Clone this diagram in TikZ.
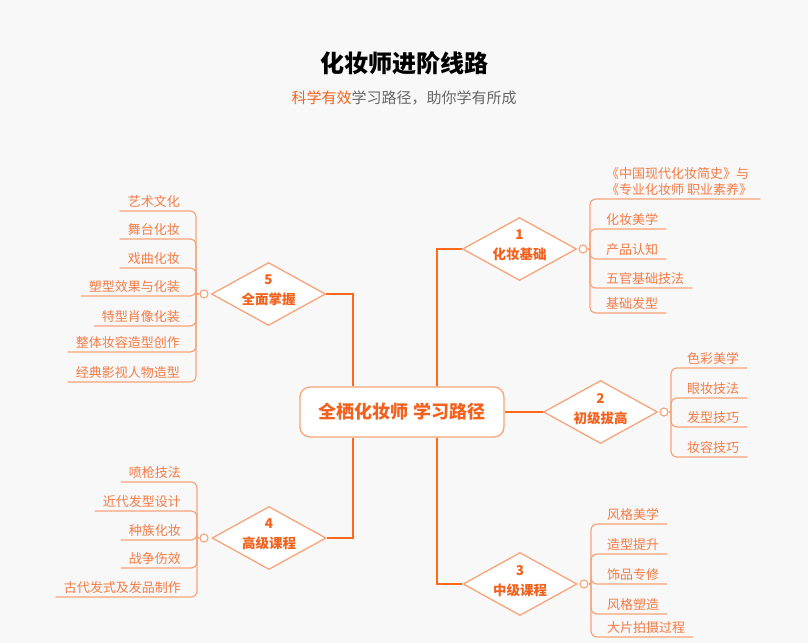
\documentclass[tikz,border=0pt]{standalone}
\usepackage{fontspec}
\setmainfont{Noto Sans CJK SC}
\usetikzlibrary{shapes.geometric}
\definecolor{bgpage}{HTML}{F8F8F8}
\definecolor{trunkorange}{HTML}{FF6A1A}
\definecolor{lineorange}{HTML}{F8A37A}
\definecolor{leaforange}{HTML}{F37B45}
\definecolor{headorange}{HTML}{F2621E}
\definecolor{subgray}{HTML}{666666}
\tikzset{
  trunk/.style={draw=trunkorange, line width=2pt},
  twig/.style={draw=lineorange, line width=1.2pt, rounded corners=6pt},
  stage/.style={diamond, draw=lineorange, line width=1.3pt, fill=white,
    minimum width=114pt, minimum height=63pt, inner sep=-8pt, align=center,
    text=headorange, font=\fontsize{13.5}{20}\selectfont\bfseries,
    execute at end node={\rule[-8pt]{0pt}{8pt}}},
  knot/.style={circle, draw=lineorange, line width=1.1pt, fill=white,
    minimum size=8pt, inner sep=0pt},
  leafR/.style={anchor=south west, inner xsep=8pt, inner ysep=3pt,
    text=leaforange, font=\fontsize{13}{16}\selectfont},
  leafL/.style={leafR, anchor=south east, align=right},
}
\begin{document}
\begin{tikzpicture}[x=1pt, y=-1pt]
  \fill[bgpage] (0,0) rectangle (808,643);
  \useasboundingbox (0,0) rectangle (808,643);

  \node (title) at (404,63) {\fontsize{24}{28}\selectfont\bfseries 化妆师进阶线路};
  \node (subtitle) at (404,98) {\fontsize{15}{18}\selectfont\textcolor{headorange}{科学有效}\textcolor{subgray}{学习路径，助你学有所成}};

  \node[draw=lineorange, line width=1.3pt, fill=white, rounded corners=10pt,
    minimum width=204pt, minimum height=50pt, text=headorange,
    font=\fontsize{18}{22}\selectfont\bfseries] (core) at (402,412) {全栖化妆师 学习路径};

  \coordinate (tL) at (353,0);
  \coordinate (tR) at (437,0);

  \node[stage] (d1) at (519.5,249) {1\\化妆基础};
  \node[stage] (d2) at (600.5,412) {2\\初级拔高};
  \node[stage] (d3) at (520,584) {3\\中级课程};
  \node[stage] (d4) at (269,538) {4\\高级课程};
  \node[stage] (d5) at (268.5,294) {5\\全面掌握};

  \draw[trunk] (core.north -| tR) |- (d1.west);
  \draw[trunk] (core.east) -- (d2.west);
  \draw[trunk] (core.south -| tR) |- (d3.west);
  \draw[trunk] (core.south -| tL) |- (d4.east);
  \draw[trunk] (core.north -| tL) |- (d5.east);

  \node[knot] (c1) at (583,249) {};
  \node[knot] (c2) at (664,412) {};
  \node[knot] (c3) at (584,584) {};
  \node[knot] (c4) at (204,538) {};
  \node[knot] (c5) at (204,294) {};
  \coordinate (h1) at (590,249);
  \coordinate (h2) at (671,412);
  \coordinate (h3) at (591,584);
  \coordinate (h4) at (197,538);
  \coordinate (h5) at (196,294);

  % 1
  \node[leafR, align=left] (a1) at (598,199) {《中国现代化妆简史》与\\《专业化妆师 职业素养》};
  \node[leafR] (a2) at (598,229) {化妆美学};
  \node[leafR] (a3) at (598,259) {产品认知};
  \node[leafR] (a4) at (598,288) {五官基础技法};
  \node[leafR] (a5) at (598,313) {基础发型};
  % 2
  \node[leafR] (b1) at (679,368) {色彩美学};
  \node[leafR] (b2) at (679,398) {眼妆技法};
  \node[leafR] (b3) at (679,427) {发型技巧};
  \node[leafR] (b4) at (679,457) {妆容技巧};
  % 3
  \node[leafR] (e1) at (599,524) {风格美学};
  \node[leafR] (e2) at (599,554) {造型提升};
  \node[leafR] (e3) at (599,584) {饰品专修};
  \node[leafR] (e4) at (599,614) {风格塑造};
  \node[leafR] (e5) at (599,637) {大片拍摄过程};
  % 4
  \node[leafL] (f1) at (189,482) {喷枪技法};
  \node[leafL] (f2) at (189,511) {近代发型设计};
  \node[leafL] (f3) at (189,540) {种族化妆};
  \node[leafL] (f4) at (189,568) {战争伤效};
  \node[leafL] (f5) at (189,597) {古代发式及发品制作};
  % 5
  \node[leafL] (g1) at (188,211) {艺术文化};
  \node[leafL] (g2) at (188,239) {舞台化妆};
  \node[leafL] (g3) at (188,268) {戏曲化妆};
  \node[leafL] (g4) at (188,296) {塑型效果与化装};
  \node[leafL] (g5) at (188,326) {特型肖像化装};
  \node[leafL] (g6) at (188,352) {整体妆容造型创作};
  \node[leafL] (g7) at (188,382) {经典影视人物造型};

  \draw[twig] (c1) -- (h1);
  \draw[twig] (c2) -- (h2);
  \draw[twig] (c3) -- (h3);
  \draw[twig] (c4) -- (h4);
  \draw[twig] (c5) -- (h5);
  \foreach \n in {a1,a2,a3,a4,a5} \draw[twig] (h1) |- (\n.south east);
  \foreach \n in {b1,b2,b3,b4} \draw[twig] (h2) |- (\n.south east);
  \foreach \n in {e1,e2,e3,e4,e5} \draw[twig] (h3) |- (\n.south east);
  \foreach \n in {f1,f2,f3,f4,f5} \draw[twig] (h4) |- (\n.south west);
  \foreach \n in {g1,g2,g3,g4,g5,g6,g7} \draw[twig] (h5) |- (\n.south west);
\end{tikzpicture}
\end{document}
